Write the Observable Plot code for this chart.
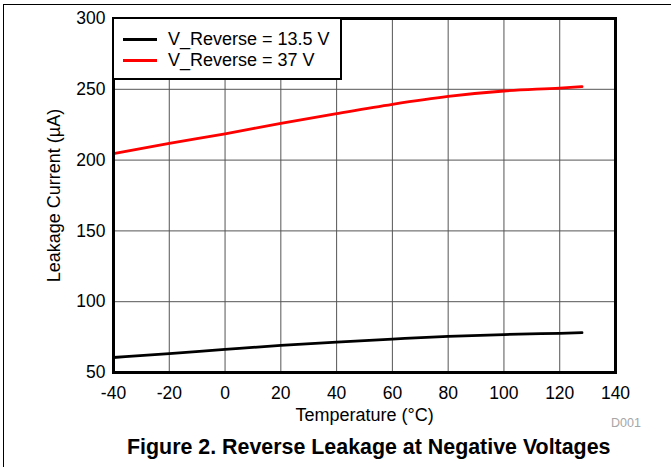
<!DOCTYPE html>
<html>
<head>
<meta charset="utf-8">
<script src="https://cdn.jsdelivr.net/npm/d3@7"></script>
<script src="https://cdn.jsdelivr.net/npm/@observablehq/plot@0.6"></script>
<style>
  html, body { margin: 0; padding: 0; background: #fff; }
  #wrap { position: relative; width: 671px; height: 467px; overflow: hidden; background: #fff;
          font-family: "Liberation Sans", Arial, sans-serif; color: #000; }
  #btop { position: absolute; left: 3px; top: 3.5px; right: 0; height: 0; border-top: 1.6px solid #000; }
  #bleft { position: absolute; left: 3px; top: 3.5px; bottom: 0; width: 0; border-left: 1.6px solid #000; }
  #chart { position: absolute; left: 0; top: 0; }
  #legend { position: absolute; left: 112px; top: 17px; width: 226px; height: 59px; background: #fff;
            border: 2.5px solid #000; font-size: 18px; }
  .row { position: absolute; left: 0; height: 20px; display: flex; align-items: center; white-space: nowrap; }
  .sw { display: inline-block; width: 34px; height: 0; border-top: 3px solid; margin-left: 9px; margin-right: 11px; }
  #d001 { position: absolute; left: 611px; top: 416px; font-size: 12.5px; color: #a6a6a6; }
  #caption { position: absolute; left: 127px; top: 435px; font-size: 21.4px; font-weight: bold; white-space: nowrap; }
</style>
</head>
<body>
<div id="wrap">
  <div id="btop"></div>
  <div id="bleft"></div>
  <div id="chart"></div>
  <div id="legend"></div>
  <div id="d001">D001</div>
  <div id="caption">Figure 2. Reverse Leakage at Negative Voltages</div>
</div>
<script>
// Data
const temperature = [-40, -20, 0, 20, 40, 60, 80, 100, 120, 128];
const leakage13_5V = [60.6, 63.4, 66.3, 69.1, 71.5, 73.6, 75.5, 76.8, 77.7, 78.1];
const leakage37V = [204.5, 211.8, 218.6, 225.9, 232.8, 239.4, 245.0, 248.8, 250.9, 251.9];
const seriesNames = ["V_Reverse = 13.5 V", "V_Reverse = 37 V"];
const seriesColors = ["#000000", "#ff0000"];
const xTicks = [-40, -20, 0, 20, 40, 60, 80, 100, 120, 140];
const yTicks = [50, 100, 150, 200, 250, 300];

const rows = [];
temperature.forEach((t, i) => rows.push({t, v: leakage13_5V[i], s: seriesNames[0]}));
temperature.forEach((t, i) => rows.push({t, v: leakage37V[i], s: seriesNames[1]}));

const chart = Plot.plot({
  width: 671,
  height: 430,
  marginLeft: 113,
  marginRight: 56,
  marginTop: 18,
  marginBottom: 58,
  style: {fontFamily: "'Liberation Sans', Arial, sans-serif", fontSize: "17.5px", color: "#000", background: "transparent"},
  x: {domain: [-40, 140], tickSize: 0, label: null},
  y: {domain: [50, 300], tickSize: 0, label: null},
  color: {domain: seriesNames, range: seriesColors},
  marks: [
    Plot.gridX(xTicks, {stroke: "#555", strokeOpacity: 1, strokeWidth: 1}),
    Plot.gridY(yTicks, {stroke: "#555", strokeOpacity: 1, strokeWidth: 1}),
    Plot.axisX(xTicks, {tickSize: 0, tickPadding: 14, tickFormat: d => String(d),
      label: "Temperature (°C)", labelAnchor: "center", labelArrow: "none", labelOffset: 48, fontSize: 17.5}),
    Plot.axisY(yTicks, {tickSize: 0, tickPadding: 8, tickFormat: d => String(d),
      label: "Leakage Current (µA)", labelAnchor: "center", labelArrow: "none", labelOffset: 66, fontSize: 17.5}),
    Plot.line(rows, {x: "t", y: "v", z: "s", stroke: "s", strokeWidth: 2.8, curve: "monotone-x"}),
    Plot.frame({stroke: "#000", strokeWidth: 3})
  ]
});
document.getElementById("chart").appendChild(chart);
// axis titles slightly larger than tick labels
chart.querySelectorAll("g[aria-label='x-axis label'] text, g[aria-label='y-axis label'] text")
  .forEach(t => t.setAttribute("font-size", "18px"));

const legend = document.getElementById("legend");
seriesNames.forEach((name, i) => {
  const row = document.createElement("div");
  row.className = "row";
  row.style.top = (10 + i * 21) + "px";
  const sw = document.createElement("span");
  sw.className = "sw";
  sw.style.borderTopColor = seriesColors[i];
  const label = document.createElement("span");
  label.textContent = name;
  row.appendChild(sw);
  row.appendChild(label);
  legend.appendChild(row);
});
</script>
</body>
</html>
